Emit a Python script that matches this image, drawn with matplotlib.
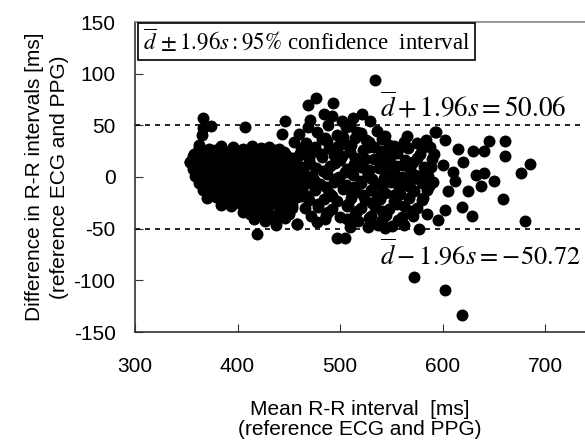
import matplotlib
matplotlib.use('Agg')
import matplotlib.pyplot as plt

plt.rcParams['font.family'] = ['Liberation Sans', 'DejaVu Sans']
plt.rcParams['mathtext.fontset'] = 'stix'
plt.rcParams['axes.unicode_minus'] = False

# dense cluster at short R-R intervals
blob_x = [362, 372, 384, 396, 405, 414, 423, 431, 440,
          358, 367, 377, 388, 399, 409, 418, 427, 436, 447,
          354, 363, 372, 381, 391, 401, 411, 420, 430, 440, 451,
          357, 366, 375, 385, 394, 404, 413, 423, 433, 443, 455,
          359, 368, 378, 387, 397, 406, 416, 426, 436, 446, 458,
          362, 371, 380, 390, 399, 409, 419, 429, 439, 449, 460,
          366, 375, 384, 394, 403, 413, 423, 433, 443, 454,
          370, 379, 389, 398, 408, 418, 428, 438, 448, 458,
          384, 394, 403, 413, 423, 433, 443, 453,
          405, 412, 421, 430, 440, 450,
          416, 427, 438, 446,
          366, 366, 374, 365, 407, 362, 357, 354, 419, 438, 427, 443, 458,
          367, 378, 390, 401, 410, 419, 428, 436, 445,
          362, 372, 383, 395, 405, 415, 425, 435, 445, 453,
          362, 371, 380, 390, 399, 409, 418, 428, 438, 448, 457,
          364, 373, 382, 392, 401, 411, 421, 431, 441, 451,
          367, 375, 385, 394, 404, 414, 424, 434, 444, 454,
          378, 389, 398, 408, 418, 428, 438, 448, 456,
          389, 399, 408, 418, 428, 438, 448, 457,
          398, 409, 417, 426, 435, 445, 453]
blob_y = [28, 27, 30, 29, 27, 30, 28, 29, 27,
          22, 21, 23, 20, 22, 21, 23, 20, 22, 21,
          15, 14, 16, 15, 13, 16, 14, 15, 16, 14, 15,
          8, 9, 7, 8, 10, 7, 9, 8, 7, 9, 8,
          1, 2, 0, 1, 3, 0, 2, 1, 0, 2, 1,
          -6, -5, -7, -6, -4, -7, -5, -6, -7, -5, -6,
          -13, -12, -14, -13, -11, -14, -12, -13, -14, -12,
          -20, -19, -21, -20, -18, -21, -19, -20, -21, -19,
          -27, -28, -26, -29, -27, -26, -28, -27,
          -34, -36, -33, -35, -34, -36,
          -41, -40, -42, -40,
          57, 47, 49, 41, 48, 31, 20, 15, -55, -46, -43, 42, -45,
          25, 26, 24, 25, 26, 24, 25, 26, 24,
          18, 19, 17, 18, 19, 17, 18, 19, 17, 18,
          11, 12, 10, 11, 12, 10, 11, 12, 10, 11, 12,
          5, 4, 6, 5, 4, 6, 5, 4, 6, 5,
          -2, -3, -1, -2, -3, -1, -2, -3, -1, -2,
          -9, -10, -8, -9, -10, -8, -9, -10, -8,
          -16, -17, -15, -16, -17, -15, -16, -17,
          -23, -24, -22, -24, -23, -31, -30]

# middle band 455-595 ms
mid_x = [469, 477, 493, 484, 492, 471, 502, 513, 521, 529, 446, 506, 517, 541, 565, 593, 580, 588,
         460, 478, 497, 520,
         455, 467, 487, 505, 528, 548, 575,
         462, 474, 493, 510, 522, 540, 556,
         458, 470, 482, 500, 515, 533, 549, 563, 575, 590,
         465, 477, 490, 507, 520, 538, 555, 568, 582,
         462, 473, 487, 499, 513, 527, 545, 560, 573, 586,
         468, 480, 494, 506, 520, 535, 550, 565, 580,
         463, 476, 489, 503, 516, 530, 544, 558, 572, 585,
         470, 484, 497, 511, 524, 539, 553, 567, 580,
         466, 479, 492, 507, 520, 534, 548, 562, 575,
         472, 486, 500, 515, 530, 545, 560,
         458, 478, 518, 537, 551, 577, 497, 505,
         469, 488, 510, 536, 485, 515, 553, 566,
         476, 498, 528, 547, 471, 494, 514, 545, 569,
         483, 505, 526, 553, 474, 497, 531, 559, 577,
         486, 514, 541, 568, 463, 492, 522, 553,
         479, 508, 531, 556, 488, 517, 541, 569,
         482, 503, 525, 544, 562, 584,
         466, 489, 511, 533, 557, 578, 592,
         460, 481, 502, 524, 546, 571, 589,
         471, 495, 517, 539, 561, 583,
         464, 486, 509, 528, 551, 574, 591,
         475, 497, 520, 543, 565, 587,
         468, 491, 512, 536, 559, 581,
         485, 507, 528, 541, 557, 571, 585,
         510, 527, 544, 562]
mid_y = [70, 76, 72, 61, 59, 55, 54, 57, 61, 54, 54, 48, 44, 37, 40, 44, 28, 29,
         42, 44, 41, 43,
         34, 33, 35, 32, 34, 31, 33,
         26, 25, 27, 24, 26, 25, 23,
         18, 17, 19, 16, 18, 17, 19, 16, 18, 17,
         10, 9, 11, 8, 10, 9, 11, 8, 10,
         2, 1, 3, 0, 2, 1, 3, 0, 2, 1,
         -6, -7, -5, -8, -6, -7, -5, -8, -6,
         -14, -13, -15, -12, -14, -13, -15, -12, -14, -13,
         -22, -21, -23, -20, -22, -21, -23, -20, -22,
         -30, -29, -31, -28, -30, -29, -31, -28, -30,
         -38, -37, -39, -36, -38, -37, -39,
         -45, -44, -43, -46, -47, -50, -59, -59,
         48, 50, 49, 45, 38, 38, 30, 28,
         29, 30, 29, 21, 22, 21, 13, 14, 13,
         6, 5, 6, 5, -2, -2, -2, -3, -2,
         -10, -10, -9, -10, -18, -18, -17, -17,
         -26, -26, -25, -26, -34, -33, -33, -33,
         37, 39, 36, 40, 34, 36,
         30, 28, 31, 29, 27, 22, 22,
         21, 22, 20, 17, 20, 15, 10,
         13, 14, 12, 15, 12, 6,
         4, 6, 5, 7, 4, -1, -5,
         -3, -1, -4, -1, -3, -9,
         -18, -17, -16, -18, -16, -20,
         -41, -41, -40, -42, -42, -38, -36,
         -48, -48, -49, -46]

# sparse points at long R-R intervals
right_x = [534, 594, 602, 615, 630, 640, 645, 661, 661, 685, 677, 650, 638, 625, 659, 619, 629, 680,
           602, 596, 600, 610, 620, 612, 633, 640, 605, 572, 602, 619]
right_y = [94, 44, 36, 27, 25, 25, 35, 35, 20, 13, 4, -4, -9, -14, -21, -29, -38, -43,
           -32, -42, 12, 5, 15, -4, 2, 4, -14, -97, -109, -134]

upper_loa = 50.06
lower_loa = -50.72

fig = plt.figure(figsize=(5.85, 4.45), dpi=100, facecolor='white')
ax = fig.add_axes([135 / 585, 113 / 445, 450 / 585, 310 / 445])

for xs, ys in [(blob_x, blob_y), (mid_x, mid_y), (right_x, right_y)]:
    ax.plot(xs, ys, 'o', color='black', ms=8.6, mew=0, zorder=3)

ax.axhline(upper_loa, color='black', lw=1.2, ls=(0, (3, 3)), zorder=2)
ax.axhline(lower_loa, color='black', lw=1.2, ls=(0, (3, 3)), zorder=2)

ax.set_xlim(300, 739)
ax.set_ylim(-150, 150)
ax.set_xticks([300, 400, 500, 600, 700])
ax.set_yticks([-150, -100, -50, 0, 50, 100, 150])
ax.tick_params(axis='x', direction='in', length=6, pad=18, labelsize=15, color='#333333')
ax.tick_params(axis='y', direction='in', length=6, pad=14, labelsize=15, color='#333333')

ax.spines['right'].set_visible(False)
ax.spines['top'].set_color('#888888')
ax.spines['left'].set_color('#333333')
ax.spines['bottom'].set_color('#333333')
for s in ax.spines.values():
    s.set_linewidth(1.2)

ax.set_xlabel('Mean R-R interval  [ms]\n(reference ECG and PPG)', fontsize=15, labelpad=17, linespacing=1.1)
ax.set_ylabel('Difference in R-R intervals [ms]\n(reference ECG and PPG)', fontsize=15, labelpad=3, linespacing=1.4)

ax.text(0.018, 0.982, r'$\overline{d}\,\pm 1.96s : 95\%$ confidence  interval',
        transform=ax.transAxes, ha='left', va='top', fontsize=16.5,
        family=['Liberation Serif', 'DejaVu Serif'],
        bbox=dict(boxstyle='square,pad=0.22', facecolor='white', edgecolor='black', linewidth=1.2),
        zorder=5)

ax.text(539, 68, r'$\overline{d}+1.96s=50.06$', ha='left', va='center', fontsize=19.5, zorder=4)
ax.text(539, -74, r'$\overline{d}-1.96s=\!-\!50.72$', ha='left', va='center', fontsize=19, zorder=4)

fig.savefig('out.png', dpi=100, facecolor='white')
